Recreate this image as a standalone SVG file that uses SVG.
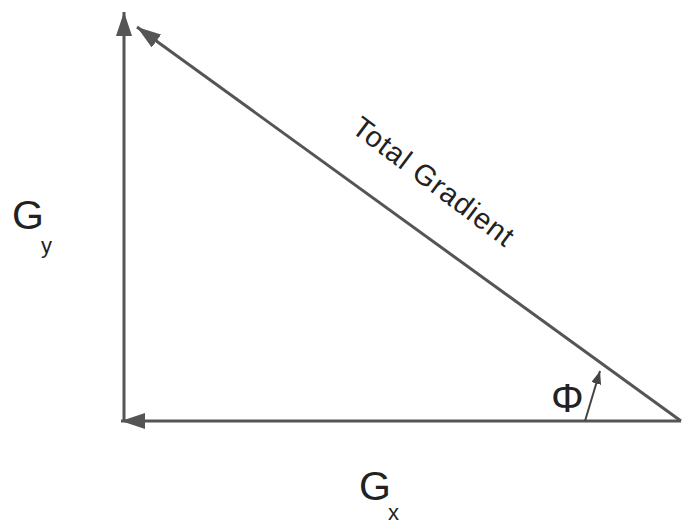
<svg xmlns="http://www.w3.org/2000/svg" width="683" height="524" viewBox="0 0 683 524">
<defs>
<style>
.ln{stroke:#555;stroke-width:3;fill:none}
.t{font-family:"Liberation Sans",Arial,sans-serif;fill:#222}
</style>
<marker id="ah" markerUnits="userSpaceOnUse" markerWidth="26" markerHeight="16" refX="24" refY="8" orient="auto"><path d="M0,0 L24,8 L0,16 Z" fill="#555"/></marker>
<marker id="ahs" markerUnits="userSpaceOnUse" markerWidth="14" markerHeight="10" refX="13" refY="5" orient="auto"><path d="M0,0 L13,5 L0,10 Z" fill="#444"/></marker>
</defs>
<rect width="683" height="524" fill="#fff"/>
<g id="connectors">
<line class="ln" x1="124" y1="421" x2="124" y2="12" marker-end="url(#ah)"/>
<line class="ln" x1="681" y1="421" x2="121" y2="421" marker-end="url(#ah)"/>
<line class="ln" x1="681" y1="421" x2="137" y2="27" marker-end="url(#ah)"/>
<line x1="585" y1="421" x2="600" y2="371" stroke="#444" stroke-width="2" marker-end="url(#ahs)"/>
</g>
<g id="gy"><text class="t" x="12" y="229" font-size="41">G</text><text class="t" x="41" y="253" font-size="22">y</text></g>
<g id="gx"><text class="t" x="359" y="500" font-size="41">G</text><text class="t" x="388" y="520" font-size="22">x</text></g>
<g id="phi"><text class="t" x="551" y="412" font-size="41">Φ</text></g>
<g id="total"><text class="t" font-size="29" letter-spacing="1" transform="translate(350,131) rotate(37)">Total Gradient</text></g>
</svg>
